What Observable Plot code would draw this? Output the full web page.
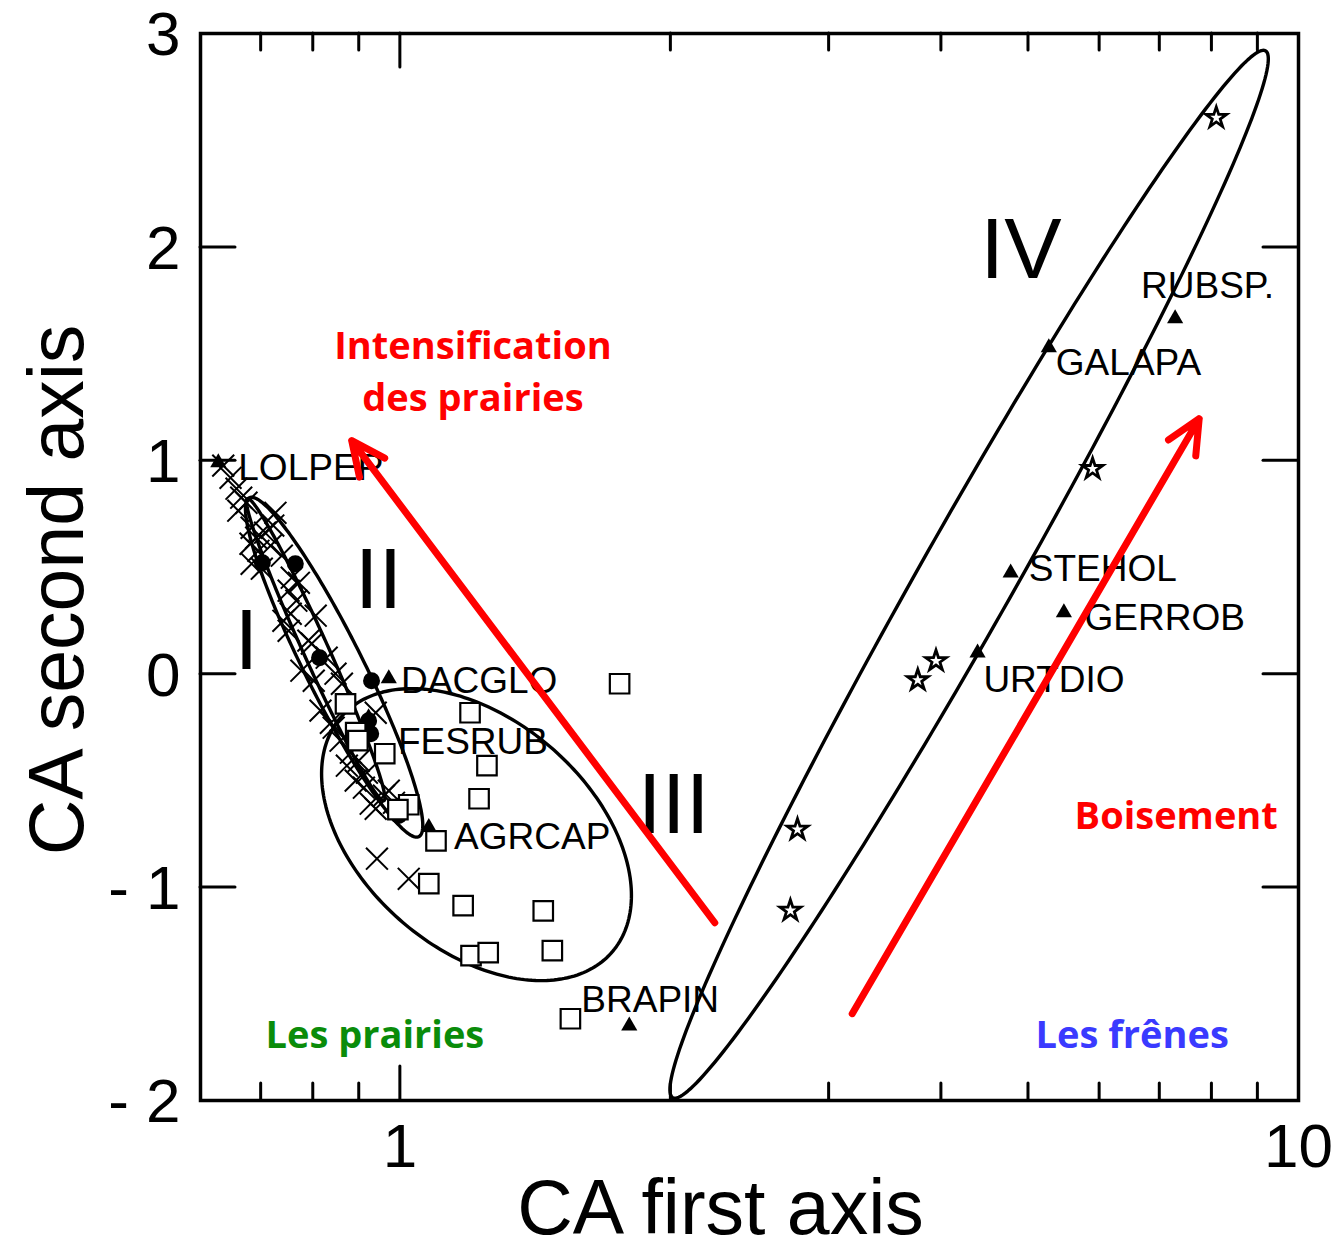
<!DOCTYPE html>
<html><head><meta charset="utf-8">
<script src="https://cdn.jsdelivr.net/npm/d3@7"></script>
<script src="https://cdn.jsdelivr.net/npm/@observablehq/plot@0.6"></script>
<style>body{margin:0;background:#fff} #chart svg{display:block}</style>
</head><body><div id="chart"></div>
<script>
// ---- data (CA first axis, CA second axis) ----
const crosses = [[0.636,0.975],[0.648,0.918],[0.658,0.867],[0.666,0.825],[0.675,0.801],[0.661,0.764],[0.727,0.754],[0.684,0.684],[0.692,0.637],[0.708,0.661],[0.682,0.609],[0.696,0.576],[0.718,0.600],[0.684,0.515],[0.702,0.492],[0.758,0.450],[0.772,0.426],[0.752,0.389],[0.767,0.342],[0.756,0.281],[0.806,0.272],[0.752,0.201],[0.798,0.141],[0.829,0.075],[0.777,0.014],[0.848,0.000],[0.802,-0.033],[0.862,-0.047],[0.816,-0.173],[0.838,-0.230],[0.940,-0.183],[0.844,-0.253],[0.873,-0.431],[0.919,-0.464],[0.912,-0.534],[0.972,-0.548],[0.928,-0.609],[0.940,-0.633],[0.943,-0.867],[1.023,-0.961],[0.859,-0.314],[0.882,-0.370],[0.900,-0.408],[0.893,-0.501],[0.960,-0.572],[0.985,-0.605],[0.739,0.553],[0.723,0.694],[0.742,0.248],[0.791,0.155]];
const circles = [[0.703,0.520],[0.765,0.515],[0.814,0.075],[0.930,-0.033],[0.923,-0.220],[0.928,-0.281],[0.997,-0.665]];
const squares = [[1.756,-0.047],[1.197,-0.183],[1.250,-0.431],[1.225,-0.586],[1.097,-0.783],[1.077,-0.984],[1.176,-1.087],[1.444,-1.111],[1.200,-1.321],[1.254,-1.307],[1.478,-1.298],[1.548,-1.617],[0.870,-0.141],[0.893,-0.276],[0.898,-0.314],[0.962,-0.375],[1.023,-0.614],[0.995,-0.637]];
const stars = [[8.10,2.605],[5.90,0.96],[3.95,0.06],[3.77,-0.03],[2.77,-0.73],[2.72,-1.11]];

const speciesNames = ["LOLPER","DACGLO","FESRUB","AGRCAP","BRAPIN","RUBSP.","GALAPA","STEHOL","GERROB","URTDIO"];
const speciesX = [0.628,0.972,0.923,1.077,1.80,7.29,5.274,4.783,5.482,4.394];
const speciesY = [0.989,-0.023,-0.206,-0.72,-1.65,1.664,1.528,0.473,0.286,0.098];
const labelX = [0.661,1.003,0.995,1.149,1.592,6.68,5.37,5.01,5.78,4.46];
const labelY = [0.965,-0.033,-0.323,-0.764,-1.532,1.818,1.457,0.492,0.258,-0.028];

const groupNames = ["I","II","III","IV"];
const groupLabelX = [0.675,0.947,2.017,4.91];
const groupLabelY = [0.150,0.436,-0.619,1.982];

// ellipse: centre, and two conjugate semi-axes in (log10 x, y) units
const ellipseCX = [0.806,0.845,1.217,4.30];
const ellipseCY = [0.1125,0.0305,-0.754,0.466];
const ellipseA = [[0.0759,-0.7076],[0.0943,-0.794],[0.1724,-0.285],[0.3298,2.453]];
const ellipseB = [[0.01272,0.0239],[0.02897,0.0606],[0,-0.622],[0.0457,-0.108]];

const arrowX1 = [2.241,3.187], arrowY1 = [-1.167,-1.593];
const arrowX2 = [0.884,7.753], arrowY2 = [1.092,1.195];

const noteText = ["Intensification","des prairies","Boisement","Les prairies","Les frênes"];
const noteX = [1.206,1.206,7.31,0.938,6.53];
const noteY = [1.476,1.232,-0.726,-1.753,-1.753];
const noteColor = ["#ff0000","#ff0000","#ff0000","#0a8c0a","#3a3aff"];

const xMinorTicks = [0.7,0.8,0.9,2,3,4,5,6,7,8,9];
const xMajorTicks = [1];
const xTickLabels = [1,10];
const yTicks = [-2,-1,0,1,2,3];
const yInnerTicks = [-1,0,1,2];

// ---- build ----
const pts = a => a.map(([x,y]) => ({x,y}));
const ellipses = [];
groupNames.forEach((g,i) => {
  const c = Math.log10(ellipseCX[i]);
  for (let k = 0; k < 240; k++) {
    const t = 2*Math.PI*k/240;
    ellipses.push({g, x: 10 ** (c + ellipseA[i][0]*Math.cos(t) + ellipseB[i][0]*Math.sin(t)),
                      y: ellipseCY[i] + ellipseA[i][1]*Math.cos(t) + ellipseB[i][1]*Math.sin(t)});
  }
});
const species = speciesNames.map((n,i) => ({n, x: speciesX[i], y: speciesY[i], lx: labelX[i], ly: labelY[i]}));
const groups = groupNames.map((n,i) => ({n, x: groupLabelX[i], y: groupLabelY[i]}));
const arrows = arrowX1.map((d,i) => ({x1: d, y1: arrowY1[i], x2: arrowX2[i], y2: arrowY2[i]}));
const notes = noteText.map((t,i) => ({t, x: noteX[i], y: noteY[i], c: noteColor[i]}));

const FH = 1067, FW = 1098;
const font = "Liberation Sans, Arial, sans-serif";

const plot = Plot.plot({
  width: 1332, height: 1241,
  marginLeft: 200, marginRight: 34, marginTop: 33, marginBottom: 141,
  x: {type: "log", domain: [0.6, 10]},
  y: {domain: [-2, 3]},
  style: {fontFamily: font, background: "#fff", color: "#000", overflow: "visible"},
  marks: [
    // ticks (inward)
    Plot.ruleX(xMinorTicks, {x: d => d, insetTop: FH - 17, strokeWidth: 3, strokeLinecap: "round"}),
    Plot.ruleX(xMinorTicks, {x: d => d, insetBottom: FH - 17, strokeWidth: 3, strokeLinecap: "round"}),
    Plot.ruleX(xMajorTicks, {x: d => d, insetTop: FH - 34, strokeWidth: 3, strokeLinecap: "round"}),
    Plot.ruleX(xMajorTicks, {x: d => d, insetBottom: FH - 34, strokeWidth: 3, strokeLinecap: "round"}),
    Plot.ruleY(yInnerTicks, {y: d => d, insetRight: FW - 35, strokeWidth: 3, strokeLinecap: "round"}),
    Plot.ruleY(yInnerTicks, {y: d => d, insetLeft: FW - 35, strokeWidth: 3, strokeLinecap: "round"}),
    Plot.axisX({ticks: xTickLabels, anchor: "bottom", tickSize: 0, tickPadding: 22, fontSize: 62, tickFormat: d => String(d), label: null}),
    Plot.axisY({ticks: yTicks, anchor: "left", tickSize: 0, tickPadding: 20, dy: 2, fontSize: 62, tickFormat: d => d < 0 ? "- " + (-d) : String(d), label: null}),
    Plot.text(["CA first axis"], {frameAnchor: "bottom", textAnchor: "middle", dx: -29, dy: 133, lineAnchor: "bottom", fontSize: 77}),
    Plot.text(["CA second axis"], {frameAnchor: "left", textAnchor: "middle", rotate: -90, dx: -118, dy: 23, lineAnchor: "bottom", fontSize: 77}),
    // ellipses
    Plot.line(ellipses, {x: "x", y: "y", z: "g", curve: "linear-closed", stroke: "#000", strokeWidth: 3.4}),
    // points
    Plot.dot(pts(crosses), {x: "x", y: "y", symbol: "times", r: 10, stroke: "#000", strokeWidth: 2}),
    Plot.dot(pts(circles), {x: "x", y: "y", symbol: "circle", r: 8.5, fill: "#000"}),
    Plot.dot(pts(squares), {x: "x", y: "y", symbol: "square", r: 11, fill: "#fff", stroke: "#000", strokeWidth: 2.2}),
    Plot.dot(species, {x: "x", y: "y", symbol: "triangle", r: 6, fill: "#000"}),
    Plot.dot(pts(stars), {x: "x", y: "y", symbol: "star", r: 6.5, fill: "#fff", stroke: "#000", strokeWidth: 2.8}),
    // labels
    Plot.text(species, {x: "lx", y: "ly", text: "n", textAnchor: "start", lineAnchor: "middle", fontSize: 37, fill: "#000"}),
    Plot.text(groups, {x: "x", y: "y", text: "n", textAnchor: "middle", lineAnchor: "middle", fontSize: 86, fill: "#000"}),
    Plot.text(notes, {x: "x", y: "y", text: "t", fill: "c", textAnchor: "middle", lineAnchor: "bottom", fontSize: 38, fontWeight: "bold", fontFamily: "Open Sans, sans-serif"}),
    // arrows
    Plot.arrow(arrows, {x1: "x1", y1: "y1", x2: "x2", y2: "y2", stroke: "#ff0000", strokeWidth: 7, headAngle: 50, headLength: 8}),
    Plot.frame({stroke: "#000", strokeWidth: 3.5})
  ]
});
document.getElementById("chart").append(plot);
</script></body></html>
